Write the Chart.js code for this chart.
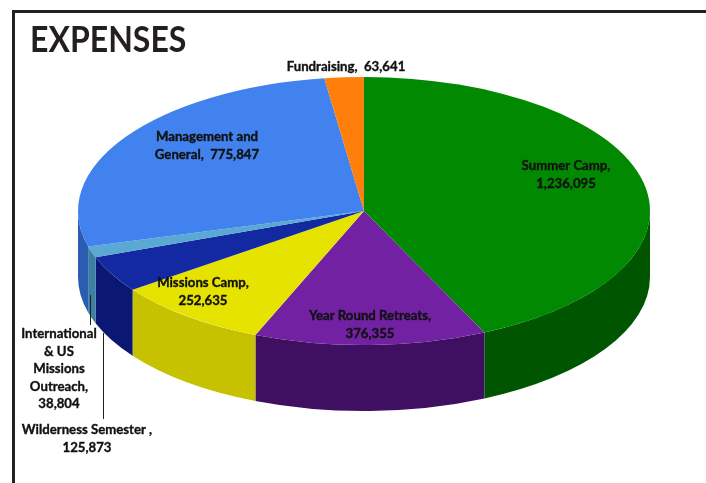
<!DOCTYPE html>
<html>
<head>
<meta charset="utf-8">
<script src="https://cdn.jsdelivr.net/npm/chart.js@4.4.1/dist/chart.umd.min.js"></script>
<style>
  html, body { margin: 0; padding: 0; background: #fff; }
  #wrap { position: relative; width: 706px; height: 483px; overflow: hidden; }
  #frame { position: absolute; left: 12px; top: 10px; width: 720px; height: 500px;
           border-top: 3px solid #231f20; border-left: 3px solid #231f20; }
  #c { position: absolute; left: 0; top: 0; }
</style>
</head>
<body>
<div id="wrap">
  <div id="frame"></div>
  <canvas id="c" width="706" height="483"></canvas>
</div>
<script>
// ---- data ----
const categories = ['Summer Camp', 'Year Round Retreats', 'Missions Camp', 'Wilderness Semester ',
  'International & US Missions Outreach', 'Management and General', 'Fundraising'];
const values = [1236095, 376355, 252635, 125873, 38804, 775847, 63641];
// label line wrapping (name parts); value appended on same line or new line
const labelNameLines = [['Summer Camp,'], ['Year Round Retreats,'], ['Missions Camp,'],
  ['Wilderness Semester ,'], ['International', '& US', 'Missions', 'Outreach,'],
  ['Management and', 'General,'], ['Fundraising,']];
const valueOnSameLine = [false, false, false, false, false, true, true];

// ---- styles ----
const topColors  = ['#018a01', '#7121a1', '#e7e300', '#1329a2', '#5aa9d3', '#4282ef', '#ff7f0c'];
const sideColors = ['#005500', '#3f1062', '#c6c200', '#0b1873', '#3b7fa2', '#2a5cb2', '#c25a00'];
const GEO = { cx: 364, cy: 211, rx: 286, ry: 134, depth: 66 };
const labelPos = [[566, 166], [370, 316], [203, 283], [87, 430], [59, 334], [207, 137], [346, 67]];
const LINE_H = 17.5;
const leaders = [[[90, 295], [90, 325]], [[103, 333], [103, 419]]];

const fmt = v => v.toLocaleString('en-US');

const pie3d = {
  id: 'pie3d',
  beforeDatasetsDraw(chart) {
    const ctx = chart.ctx;
    const arcs = chart.getDatasetMeta(0).data;
    const p0 = arcs[0].getProps(['x', 'y', 'outerRadius'], true);
    const { cx, cy, rx, ry, depth } = GEO;
    // side walls (front half only)
    arcs.forEach((arc, i) => {
      const p = arc.getProps(['startAngle', 'endAngle'], true);
      const a1 = Math.max(p.startAngle, 0), a2 = Math.min(p.endAngle, Math.PI);
      if (a2 <= a1) return;
      ctx.save();
      ctx.beginPath();
      ctx.ellipse(cx, cy, rx, ry, 0, a1, a2, false);
      ctx.ellipse(cx, cy + depth, rx, ry, 0, a2, a1, true);
      ctx.closePath();
      ctx.fillStyle = sideColors[i];
      ctx.fill();
      ctx.restore();
    });
    ctx.save();
    ctx.translate(cx, cy);
    ctx.scale(rx / p0.outerRadius, ry / p0.outerRadius);
    ctx.translate(-p0.x, -p0.y);
  },
  afterDatasetsDraw(chart) {
    chart.ctx.restore();
  },
  afterDraw(chart) {
    const ctx = chart.ctx;
    ctx.save();
    // title
    ctx.fillStyle = '#231f20';
    ctx.font = 'bold 36px Lato, "Open Sans", sans-serif';
    ctx.textAlign = 'left';
    ctx.textBaseline = 'alphabetic';
    ctx.save();
    ctx.translate(30, 52);
    ctx.scale(0.89, 1);
    ctx.fillText('EXPENSES', 0, 0);
    ctx.restore();
    // leader lines
    ctx.strokeStyle = '#231f20';
    ctx.lineWidth = 1;
    leaders.forEach(l => {
      ctx.beginPath();
      ctx.moveTo(l[0][0] + 0.5, l[0][1]);
      ctx.lineTo(l[1][0] + 0.5, l[1][1]);
      ctx.stroke();
    });
    // labels
    ctx.font = 'bold 13.2px Lato, "Open Sans", sans-serif';
    ctx.textAlign = 'center';
    ctx.textBaseline = 'middle';
    ctx.fillStyle = '#111';
    ctx.strokeStyle = '#111';
    ctx.lineWidth = 0.35;
    values.forEach((v, i) => {
      const lines = labelNameLines[i].slice();
      if (valueOnSameLine[i]) lines[lines.length - 1] += '  ' + fmt(v);
      else lines.push(fmt(v));
      lines.forEach((t, k) => {
        const y = labelPos[i][1] + k * LINE_H;
        ctx.fillText(t, labelPos[i][0], y);
        ctx.strokeText(t, labelPos[i][0], y);
      });
    });
    ctx.restore();
  }
};

new Chart(document.getElementById('c'), {
  type: 'pie',
  data: {
    labels: categories,
    datasets: [{ data: values, backgroundColor: topColors, borderWidth: 0, clip: false }]
  },
  options: {
    responsive: false,
    animation: false,
    events: [],
    rotation: 0,
    layout: { padding: 20 },
    plugins: { legend: { display: false }, tooltip: { enabled: false }, title: { display: false } }
  },
  plugins: [pie3d]
});
</script>
</body>
</html>
